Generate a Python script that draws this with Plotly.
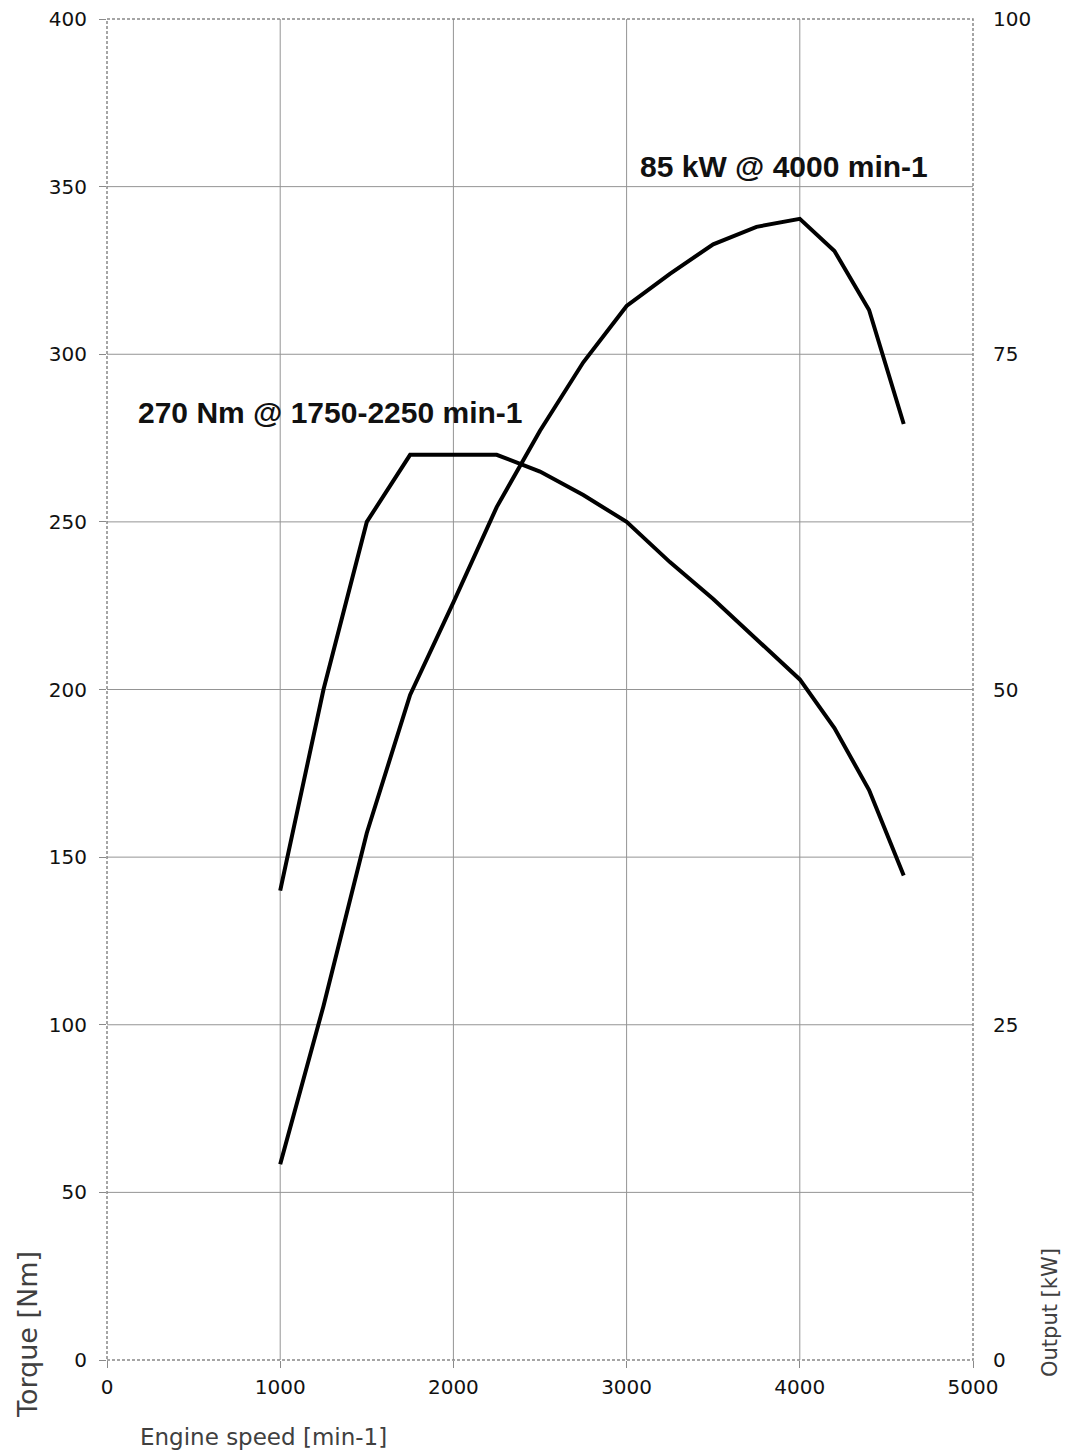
import plotly.graph_objects as go

# Data
speed = [1000, 1250, 1500, 1750, 2000, 2250, 2500, 2750, 3000, 3250, 3500, 3750, 4000, 4200, 4400, 4600]
torque = [140, 200, 250, 270, 270, 270, 265, 258, 250, 238, 227, 215, 203, 188.5, 170, 144.5]
power = [14.6, 26.4, 39.3, 49.6, 56.5, 63.6, 69.3, 74.4, 78.6, 81.0, 83.2, 84.5, 85.1, 82.7, 78.3, 69.8]

x_ticks = [0, 1000, 2000, 3000, 4000, 5000]
y_ticks = [0, 50, 100, 150, 200, 250, 300, 350, 400]
y2_ticks = [0, 25, 50, 75, 100]

# page body has an 8px margin; compensate so the plot lands at the reference pixels
OFF = 8
W, H = 1072 - OFF, 1455 - OFF
L, R, T, B = 107 - OFF, 973 - OFF, 19 - OFF, 1360 - OFF

def px(xp):
    return (xp - OFF - L) / (R - L)

def py(yp):
    return (B - (yp - OFF)) / (B - T)

fig = go.Figure()
fig.add_trace(go.Scatter(x=speed, y=torque, mode="lines",
                         line=dict(color="black", width=4), name="Torque"))
fig.add_trace(go.Scatter(x=speed, y=power, mode="lines", yaxis="y2",
                         line=dict(color="black", width=4), name="Output"))

shapes = []
for xv in x_ticks[1:-1]:
    shapes.append(dict(type="line", xref="x", yref="paper", x0=xv, x1=xv, y0=0, y1=1,
                       line=dict(color="#949494", width=1), layer="below"))
for yv in y_ticks[1:-1]:
    shapes.append(dict(type="line", xref="paper", yref="y", x0=0, x1=1, y0=yv, y1=yv,
                       line=dict(color="#949494", width=1), layer="below"))
shapes.append(dict(type="rect", xref="paper", yref="paper", x0=0, x1=1, y0=0, y1=1,
                   line=dict(color="#888888", width=1.5, dash="3px,2px"), layer="below"))

tickfont = dict(family="DejaVu Sans", size=20, color="#111111")
title_color = "#404040"

annotations = [
    dict(text="<b>270 Nm @ 1750-2250 min-1</b>", x=px(136), y=py(412), xref="paper", yref="paper",
         xanchor="left", yanchor="middle", showarrow=False,
         font=dict(family="Liberation Sans", size=30, color="#111111")),
    dict(text="<b>85 kW @ 4000 min-1</b>", x=px(638), y=py(166), xref="paper", yref="paper",
         xanchor="left", yanchor="middle", showarrow=False,
         font=dict(family="Liberation Sans", size=30, color="#111111")),
    dict(text="Torque [Nm]", x=px(27), y=py(1335), xref="paper", yref="paper",
         xanchor="center", yanchor="middle", showarrow=False, textangle=-90,
         font=dict(family="DejaVu Sans", size=27, color=title_color)),
    dict(text="Output [kW]", x=px(1050), y=py(1313), xref="paper", yref="paper",
         xanchor="center", yanchor="middle", showarrow=False, textangle=-90,
         font=dict(family="DejaVu Sans", size=21, color=title_color)),
    dict(text="Engine speed [min-1]", x=px(138), y=py(1437), xref="paper", yref="paper",
         xanchor="left", yanchor="middle", showarrow=False,
         font=dict(family="DejaVu Sans", size=23, color=title_color)),
]

fig.update_layout(
    width=W, height=H,
    margin=dict(l=L, r=W - R, t=T, b=H - B, pad=0, autoexpand=False),
    paper_bgcolor="white", plot_bgcolor="white",
    showlegend=False,
    shapes=shapes,
    annotations=annotations,
    xaxis=dict(range=[0, 5000], tickvals=x_ticks, ticktext=[str(v) for v in x_ticks],
               showgrid=False, zeroline=False, showline=False, automargin=False,
               ticks="outside", ticklen=7, tickcolor="#8a8a8a", tickfont=tickfont,
               ticklabelstandoff=2, ticklabeloverflow="allow"),
    yaxis=dict(range=[0, 400], tickvals=y_ticks, ticktext=[str(v) for v in y_ticks],
               showgrid=False, zeroline=False, showline=False, automargin=False,
               ticks="outside", ticklen=7, tickcolor="#8a8a8a", tickfont=tickfont,
               ticklabelstandoff=8, ticklabeloverflow="allow"),
    yaxis2=dict(range=[0, 100], tickvals=y2_ticks, ticktext=[str(v) for v in y2_ticks],
                overlaying="y", side="right", showgrid=False, zeroline=False, showline=False,
                automargin=False, ticks="", tickfont=tickfont, ticklabelstandoff=19,
                ticklabeloverflow="allow"),
)

fig.write_html("out.html")
